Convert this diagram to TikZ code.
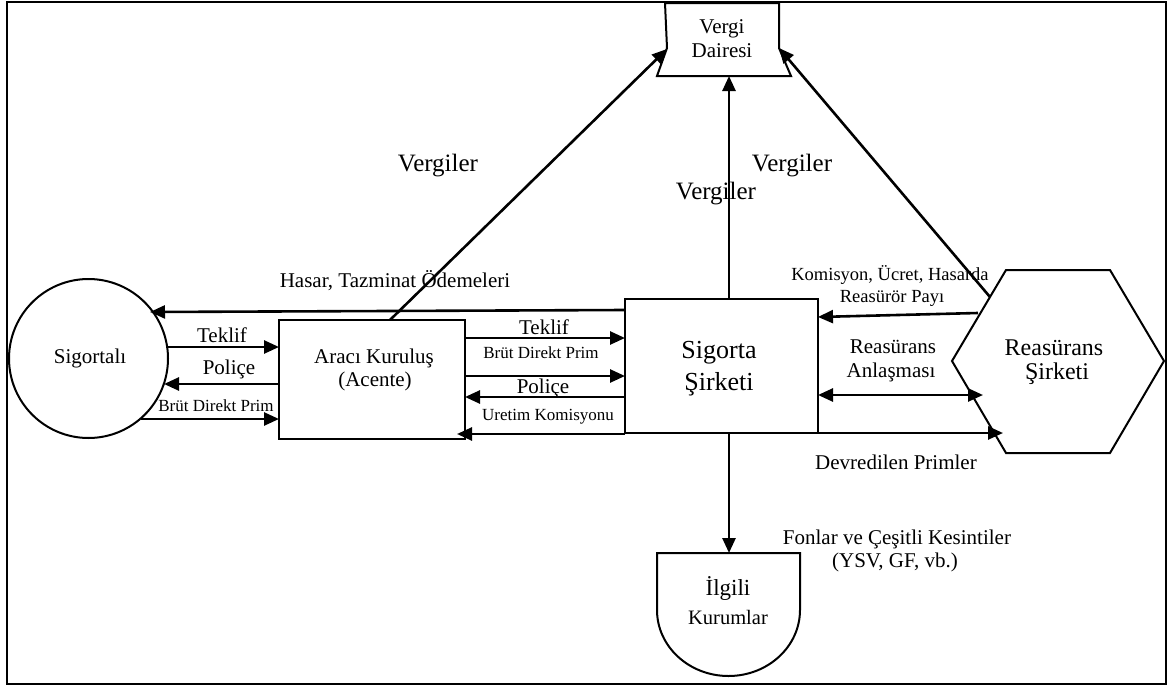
\documentclass[tikz,border=0pt]{standalone}
\usepackage{fontspec}
\setmainfont{Liberation Serif}
\usetikzlibrary{arrows.meta,calc}
\begin{document}
\begin{tikzpicture}[x=1pt,y=-1pt,
  shapebox/.style={draw,line width=2pt,outer sep=0pt,inner sep=0pt},
  flow/.style={line width=2.6pt,-{Triangle[length=15pt,width=13pt]}},
  flowb/.style={line width=2.6pt,{Triangle[length=15pt,width=13pt]}-{Triangle[length=15pt,width=13pt]}},
  txt/.style={inner sep=0pt,anchor=base},
  fbig/.style={font=\fontsize{26}{30}\selectfont},
  fvg/.style={font=\fontsize{25}{30}\selectfont},
  fmid/.style={font=\fontsize{21}{24}\selectfont},
  fsm/.style={font=\fontsize{17}{20}\selectfont},
]
\useasboundingbox (0,0) rectangle (1170,688);
\draw[line width=2.5pt] (7,2) rectangle (1166,684);

% Vergi Dairesi
\draw[shapebox] (665,3) -- (667,48) -- (657,76) -- (791,76) -- (779,48) -- (779,3) -- cycle;
\node[txt,fmid] (vd1) at (722,34) {Vergi};
\node[txt,fmid] (vd2) at (722,57) {Dairesi};
\coordinate (vdL) at (667,49);
\coordinate (vdB) at (729,76);
\coordinate (vdR) at (779,48);

% Sigortali
\node[shapebox,circle,minimum size=159pt] (sig) at (88.5,358.5) {};
\node[txt,fmid] (sigT) at (90,363) {Sigortalı};
\coordinate (sigH) at (150,312);
\coordinate (sigP) at (164,384);
\coordinate (sigB) at (141,419);
\coordinate (sigK) at (167,347);

% Araci Kurulus
\node[shapebox,minimum width=186pt,minimum height=119pt] (ar) at (372,379.5) {};
\node[txt,fmid] (arT1) at (374,363) {Aracı Kuruluş};
\node[txt,fmid] (arT2) at (375,386) {(Acente)};

% Sigorta Sirketi
\node[shapebox,minimum width=193pt,minimum height=134pt] (sg) at (721.5,366) {};
\node[txt,fbig] (sgT1) at (719,358) {Sigorta};
\node[txt,fbig] (sgT2) at (719,390) {Şirketi};

% Reasurans Sirketi
\draw[shapebox] (952,361) -- (1006,270) -- (1110,270) -- (1164,361) -- (1110,453) -- (1006,453) -- cycle;
\node[txt,font=\fontsize{24}{28}\selectfont] (rsT1) at (1054,355) {Reasürans};
\node[txt,font=\fontsize{24}{28}\selectfont] (rsT2) at (1057,379) {Şirketi};
\coordinate (rsV) at (990,297);
\coordinate (rsK) at (978,313);
\coordinate (rsA) at (983,395);
\coordinate (rsD) at (1003,433);

% Ilgili Kurumlar
\draw[shapebox] (657,553) -- (800,553) -- (800,610) arc[start angle=0,end angle=180,x radius=71.5,y radius=66] -- cycle;
\coordinate (ilg) at (729,553);
\node[txt,font=\fontsize{23}{26}\selectfont] (ilT1) at (728,595) {İlgili};
\node[txt,font=\fontsize{20.5}{24}\selectfont] (ilT2) at (728,624) {Kurumlar};

% connectors
\draw[flow] ($(sg.north west)+(0,11)$) -- (sigH);
\draw[flow] (sigK) -- ($(ar.north west)+(0,27)$);
\draw[flow] ($(ar.north west)+(0,64)$) -- (sigP);
\draw[flow] (sigB) -- ($(ar.north west)+(0,99)$);

\draw[flow] ($(ar.north east)+(0,18)$) -- ($(sg.north west)+(0,39)$);
\draw[flow] ($(ar.north east)+(0,56)$) -- ($(sg.north west)+(0,77)$);
\draw[flow] ($(sg.north west)+(0,98)$) -- ($(ar.north east)+(0,77)$);
\draw[flow] ($(sg.south west)+(0,1)$) -- ($(ar.south east)+(-8,-5)$);

\draw[flow] ($(ar.north)+(18,0)$) -- (vdL);
\draw[flow] ($(sg.north)+(7.5,0)$) -- (vdB);
\draw[flow] (rsV) -- (vdR);

\draw[flow] (rsK) -- ($(sg.north east)+(0,18)$);
\draw[flowb] ($(sg.north east)+(0,96)$) -- (rsA);
\draw[flow] ($(sg.south east)+(0,0)$) -- (rsD);
\draw[flow] ($(sg.south)+(7.5,0)$) -- (ilg);

% labels
\node[txt,fvg] (lv1) at (438,171) {Vergiler};
\node[txt,fvg] (lv2) at (716,199) {Vergiler};
\node[txt,fvg] (lv3) at (792,171) {Vergiler};
\node[txt,fmid] (lh) at (395,287) {Hasar, Tazminat Ödemeleri};
\node[txt,fmid] (lt1) at (222,342) {Teklif};
\node[txt,fmid] (lp1) at (229,374) {Poliçe};
\node[txt,fsm] (lb1) at (216,411) {Brüt Direkt Prim};
\node[txt,fmid] (lt2) at (544,334) {Teklif};
\node[txt,fsm] (lb2) at (541,358) {Brüt Direkt Prim};
\node[txt,fmid] (lp2) at (543,393) {Poliçe};
\node[txt,fsm] (lu) at (548,420) {Uretim Komisyonu};
\node[txt,font=\fontsize{18.5}{22}\selectfont] (lk1) at (890,280) {Komisyon, Ücret, Hasarda};
\node[txt,font=\fontsize{18.5}{22}\selectfont] (lk2) at (892,302) {Reasürör Payı};
\node[txt,fmid] (la1) at (893,353) {Reasürans};
\node[txt,fmid] (la2) at (891,377) {Anlaşması};
\node[txt,fmid] (ld) at (896,469) {Devredilen Primler};
\node[txt,fmid] (lf1) at (897,544) {Fonlar ve Çeşitli Kesintiler};
\node[txt,fmid] (lf2) at (895,567) {(YSV, GF, vb.)};
\end{tikzpicture}
\end{document}
